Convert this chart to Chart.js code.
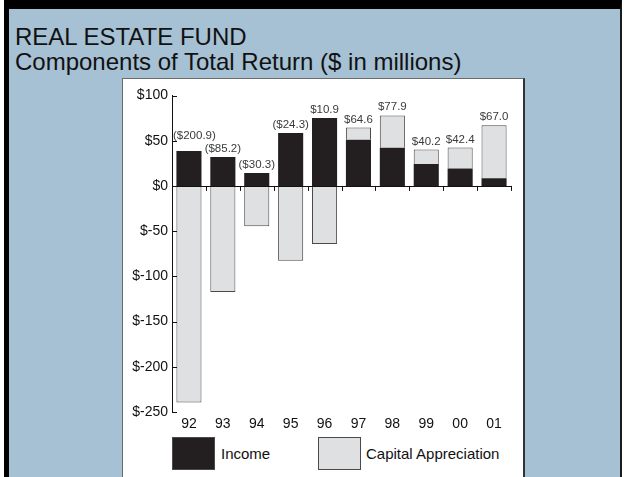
<!DOCTYPE html>
<html>
<head>
<meta charset="utf-8">
<title>Real Estate Fund</title>
<script src="https://cdn.jsdelivr.net/npm/chart.js@4.4.1/dist/chart.umd.min.js"></script>
<style>
    html, body {
        margin: 0;
        padding: 0;
        width: 624px;
        height: 477px;
        overflow: hidden;
        background: #ffffff;
        font-family: "Liberation Sans", Arial, Helvetica, sans-serif;
    }
    #frame {
        position: absolute;
        left: 4px;
        top: 0;
        width: 611px;
        height: 520px;
        background: #a6c0d4;
        border-left: 5px solid #000;
        border-top: 9px solid #000;
        border-right: 2px solid #1a1a1a;
    }
    .title {
        position: absolute;
        left: 15px;
        color: #111;
        font-size: 24px;
        white-space: nowrap;
    }
    #panel {
        position: absolute;
        left: 122px;
        top: 78px;
        width: 400px;
        height: 430px;
        background: #ffffff;
        border-top: 1px solid #6a6a6a;
        border-left: 1px solid #6a6a6a;
        border-right: 2px solid #333;
    }
    #chart-wrap {
        position: absolute;
        left: 123px;
        top: 80px;
        width: 400px;
        height: 352px;
    }
    .legend-box {
        position: absolute;
        top: 437px;
        width: 41px;
        height: 31px;
        border: 1px solid #4a4a4a;
    }
    .legend-text {
        position: absolute;
        top: 445px;
        font-size: 15px;
        color: #111;
        white-space: nowrap;
    }
</style>
</head>
<body>
<div id="frame"></div>
<div class="title" style="top:23px;">REAL ESTATE FUND</div>
<div class="title" style="top:48px;">Components of Total Return ($ in millions)</div>
<div id="panel"></div>
<div id="chart-wrap"><canvas id="return-chart" width="400" height="352"></canvas></div>

<div class="legend-box" style="left:172px; background:#231f20;"></div>
<div class="legend-text" style="left:221px;">Income</div>
<div class="legend-box" style="left:318px; background:#dfe0e2;"></div>
<div class="legend-text" style="left:366px;">Capital Appreciation</div>

<script>
// Tahun fiskal dan komponen return (juta dolar)
const years = ['92', '93', '94', '95', '96', '97', '98', '99', '00', '01'];
const incomeValues = [38.6, 32.0, 14.3, 58.4, 75.0, 51.2, 42.3, 24.3, 19.2, 8.5];
const capitalValues = [-239.5, -117.2, -44.6, -82.7, -64.1, 13.4, 35.6, 15.9, 23.2, 58.5];

// Skala sumbu Y
const yMin = -250;
const yMax = 100;
const yStep = 50;

const FONT_FAMILY = '"Liberation Sans", Arial, Helvetica, sans-serif';

function formatTotal(value) {
    const text = '$' + Math.abs(value).toFixed(1);
    return value < 0 ? '(' + text + ')' : text;
}

// Garis nol, tick kecil di sumbu, dan label total di atas tiap batang
const axisMarksPlugin = {
    id: 'axisMarks',
    afterDatasetsDraw(chart) {
        const { ctx, chartArea, scales } = chart;
        const xScale = scales.x;
        const yScale = scales.y;
        const zeroY = yScale.getPixelForValue(0);

        ctx.save();
        ctx.strokeStyle = '#111';
        ctx.lineWidth = 1;

        // Garis nol
        ctx.beginPath();
        ctx.moveTo(chartArea.left, Math.round(zeroY) + 0.5);
        ctx.lineTo(chartArea.right, Math.round(zeroY) + 0.5);
        ctx.stroke();

        // Tick ke bawah di batas setiap kategori
        for (let i = 0; i < years.length; i++) {
            const bx = (xScale.getPixelForValue(i) + xScale.getPixelForValue(i + 1)) / 2;
            ctx.beginPath();
            ctx.moveTo(Math.round(bx) + 0.5, zeroY);
            ctx.lineTo(Math.round(bx) + 0.5, zeroY + 5);
            ctx.stroke();
        }

        // Tick sumbu Y mengarah ke dalam
        const tickYs = [];
        yScale.ticks.forEach(t => {
            const py = Math.round(yScale.getPixelForValue(t.value)) + 0.5;
            tickYs.push(py);
            ctx.beginPath();
            ctx.moveTo(chartArea.left, py);
            ctx.lineTo(chartArea.left + 5, py);
            ctx.stroke();
        });

        // Label total return
        ctx.font = '11.5px ' + FONT_FAMILY;
        ctx.fillStyle = '#3a3a3a';
        ctx.textAlign = 'left';
        ctx.textBaseline = 'alphabetic';
        for (let i = 0; i < years.length; i++) {
            const inc = incomeValues[i];
            const cap = capitalValues[i];
            const total = inc + cap;
            const posTop = Math.max(inc, 0) + Math.max(cap, 0);
            const text = formatTotal(total);
            const w = ctx.measureText(text).width;

            let left = xScale.getPixelForValue(i) - w / 2;
            let baseline = yScale.getPixelForValue(posTop) - 5;

            // Geser jika menabrak sumbu Y beserta tick-nya
            if (left < chartArea.left + 1) {
                left = chartArea.left + 1;
                tickYs.forEach(ty => {
                    if (Math.abs(baseline - 4 - ty) < 8) {
                        baseline = ty - 3;
                    }
                });
            }
            ctx.fillText(text, left, baseline);
        }
        ctx.restore();
    }
};

const ctx = document.getElementById('return-chart');

new Chart(ctx, {
    type: 'bar',
    data: {
        labels: years,
        datasets: [
            {
                label: 'Income',
                data: incomeValues,
                backgroundColor: '#231f20',
                borderWidth: 0,
                barPercentage: 0.74,
                categoryPercentage: 1.0
            },
            {
                label: 'Capital Appreciation',
                data: capitalValues,
                backgroundColor: '#dfe0e2',
                borderColor: '#4a4a4a',
                borderWidth: 1,
                barPercentage: 0.74,
                categoryPercentage: 1.0
            }
        ]
    },
    options: {
        responsive: false,
        devicePixelRatio: 1,
        animation: false,
        events: [],
        layout: {
            padding: { left: 0, right: 12, top: 15.5, bottom: 0 }
        },
        plugins: {
            legend: { display: false },
            tooltip: { enabled: false }
        },
        scales: {
            x: {
                stacked: true,
                grid: { display: false, drawTicks: false },
                border: { display: false },
                ticks: {
                    color: '#111',
                    padding: 4,
                    maxRotation: 0,
                    autoSkip: false,
                    font: { family: FONT_FAMILY, size: 14 }
                },
                afterFit: (scale) => { scale.height = 20; }
            },
            y: {
                stacked: true,
                min: yMin,
                max: yMax,
                grid: { display: false, drawTicks: false },
                border: { display: true, color: '#111', width: 1 },
                ticks: {
                    stepSize: yStep,
                    color: '#111',
                    padding: 4,
                    font: { family: FONT_FAMILY, size: 14 },
                    callback: (value) => '$' + value
                },
                afterFit: (scale) => { scale.width = 49; }
            }
        }
    },
    plugins: [axisMarksPlugin]
});
</script>
</body>
</html>
